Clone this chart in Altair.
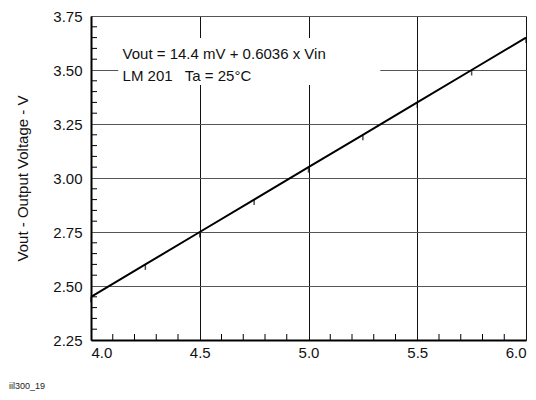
import altair as alt
import pandas as pd

vin = [4.0, 4.25, 4.5, 4.75, 5.0, 5.25, 5.5, 5.75, 6.0]
vout = [2.45, 2.60, 2.75, 2.90, 3.05, 3.20, 3.35, 3.50, 3.65]
x_major = [4.0, 4.5, 5.0, 5.5, 6.0]
y_major = [2.25, 2.50, 2.75, 3.00, 3.25, 3.50, 3.75]
x_minor = [4.1, 4.2, 4.3, 4.4, 4.6, 4.7, 4.8, 4.9, 5.1, 5.2, 5.3, 5.4, 5.6, 5.7, 5.8, 5.9]
y_minor = [2.30, 2.35, 2.40, 2.45, 2.55, 2.60, 2.65, 2.70, 2.80, 2.85, 2.90, 2.95,
           3.05, 3.10, 3.15, 3.20, 3.30, 3.35, 3.40, 3.45, 3.55, 3.60, 3.65, 3.70]
note_lines = ["Vout = 14.4 mV + 0.6036 x Vin", "LM 201\u00a0\u00a0 Ta = 25°C"]
note_x = [4.145, 4.145]
note_y = [3.551, 3.449]
box = {"x": [4.125], "x2": [5.33], "y": [3.648], "y2": [3.431]}

W, H = 435, 324
FONT = "Liberation Sans"

xs = alt.Scale(domain=[4.0, 6.0], nice=False, zero=False)
ys = alt.Scale(domain=[2.25, 3.75], nice=False, zero=False)

df = pd.DataFrame({"vin": vin, "vout": vout})

base_axes = alt.Chart(pd.DataFrame({"x": [4.0], "y": [2.25]})).mark_point(opacity=0).encode(
    x=alt.X("x:Q", scale=xs, axis=alt.Axis(values=x_major, format=".1f", title=None,
                                           grid=True, gridColor="#111", gridWidth=1,
                                           ticks=False, labelPadding=5, labelFontSize=15,
                                           labelFont=FONT, labelColor="#111",
                                           domainColor="black", domainWidth=2)),
    y=alt.Y("y:Q", scale=ys, axis=alt.Axis(values=y_major, format=".2f",
                                           title="Vout - Output Voltage - V",
                                           grid=True, gridColor="#555", gridWidth=1,
                                           ticks=False, labelPadding=9, labelFontSize=15,
                                           labelFont=FONT, labelColor="#111",
                                           titleFont=FONT, titleFontSize=15,
                                           titleFontWeight="normal", titleColor="#111",
                                           titleX=-69, titleY=H / 2, titleAngle=-90,
                                           titleAlign="center", titleBaseline="middle",
                                           domainColor="black", domainWidth=2)),
)

xminor = alt.Chart(pd.DataFrame({"x": x_minor})).mark_rule(color="black", strokeWidth=1).encode(
    x=alt.X("x:Q", scale=xs), y=alt.value(H), y2=alt.value(H - 6))
yminor = alt.Chart(pd.DataFrame({"y": y_minor})).mark_rule(color="black", strokeWidth=1).encode(
    y=alt.Y("y:Q", scale=ys), x=alt.value(0), x2=alt.value(6))

boxc = alt.Chart(pd.DataFrame(box)).mark_rect(color="white").encode(
    x=alt.X("x:Q", scale=xs), x2="x2:Q", y=alt.Y("y:Q", scale=ys), y2="y2:Q")

notes = alt.Chart(pd.DataFrame({"t": note_lines, "x": note_x, "y": note_y})).mark_text(
    align="left", baseline="alphabetic", font=FONT, fontSize=15, color="#111").encode(
    x=alt.X("x:Q", scale=xs), y=alt.Y("y:Q", scale=ys), text="t:N")

line = alt.Chart(df).mark_line(color="black", strokeWidth=2).encode(
    x=alt.X("vin:Q", scale=xs), y=alt.Y("vout:Q", scale=ys))
pts = alt.Chart(df).mark_tick(color="black", orient="vertical", size=5, thickness=1.5, yOffset=3).encode(
    x=alt.X("vin:Q", scale=xs), y=alt.Y("vout:Q", scale=ys))

foot = alt.Chart(pd.DataFrame({"t": ["iil300_19"]})).mark_text(
    align="left", baseline="alphabetic", font=FONT, fontSize=9, color="#222").encode(
    x=alt.value(-82), y=alt.value(373), text="t:N")

chart = alt.layer(base_axes, boxc, xminor, yminor, notes, line, pts, foot).properties(
    width=W, height=H,
    autosize=alt.AutoSizeParams(type="none"),
    padding={"left": 83, "top": 8, "right": 2, "bottom": 52},
).configure_view(stroke="black", strokeWidth=2).configure(background="white")

chart.save("out.html", embed_options={"renderer": "svg", "actions": False})
